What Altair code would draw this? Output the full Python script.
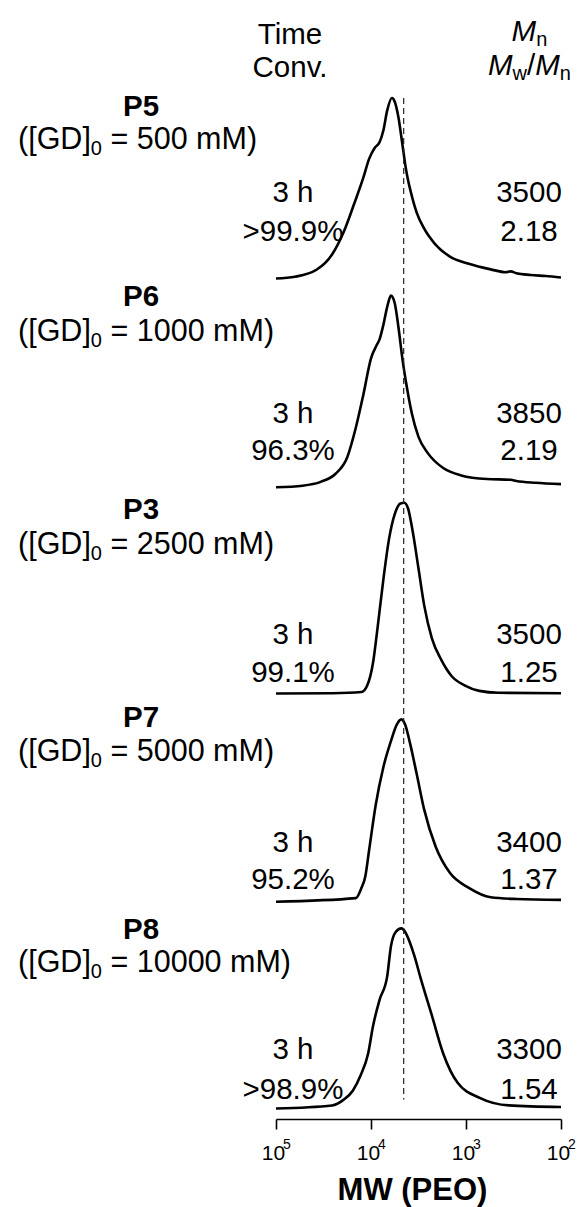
import altair as alt
import pandas as pd

FONT = "Liberation Sans"

# ---------------- values ----------------
samples = ["P5", "P6", "P3", "P7", "P8"]
gd0_mM = [500, 1000, 2500, 5000, 10000]
times = ["3 h", "3 h", "3 h", "3 h", "3 h"]
conversions = [">99.9%", "96.3%", "99.1%", "95.2%", ">98.9%"]
mn_values = ["3500", "3850", "3500", "3400", "3300"]
dispersities = ["2.18", "2.19", "1.25", "1.37", "1.54"]

# SEC traces: log10(MW, PEO calibration) and normalised detector signal
p5_logmw = [5.00, 4.80, 4.57, 4.41, 4.29, 4.18, 4.08, 4.02, 3.96, 3.91, 3.87, 3.83, 3.78, 3.75,
            3.71, 3.67, 3.63, 3.57, 3.52, 3.44, 3.33, 3.17, 2.97, 2.74, 2.58, 2.53, 2.47, 2.32,
            2.16, 2.00]
p5_signal = [0.0, 0.01, 0.05, 0.133, 0.255, 0.41, 0.56, 0.663, 0.725, 0.755, 0.82, 0.93, 1.0,
             0.98, 0.89, 0.745, 0.60, 0.457, 0.367, 0.276, 0.194, 0.122, 0.082, 0.051, 0.035,
             0.04, 0.03, 0.02, 0.014, 0.006]

p6_logmw = [5.00, 4.72, 4.53, 4.37, 4.25, 4.16, 4.08, 4.00, 3.94, 3.91, 3.87, 3.83, 3.79, 3.75,
            3.71, 3.67, 3.63, 3.57, 3.50, 3.40, 3.24, 3.05, 2.78, 2.53, 2.47, 2.27, 2.00]
p6_signal = [-0.008, 0.0, 0.02, 0.064, 0.15, 0.305, 0.48, 0.67, 0.74, 0.77, 0.846, 0.94, 1.0,
             0.96, 0.83, 0.67, 0.54, 0.38, 0.257, 0.17, 0.093, 0.054, 0.035, 0.031, 0.025,
             0.015, 0.008]

p3_logmw = [5.00, 4.41, 4.10, 4.04, 3.98, 3.93, 3.87, 3.81, 3.75, 3.69, 3.65, 3.61, 3.56, 3.50,
            3.44, 3.36, 3.26, 3.15, 3.01, 2.86, 2.66, 2.00]
p3_signal = [-0.004, -0.002, 0.004, 0.038, 0.154, 0.346, 0.596, 0.81, 0.94, 0.996, 1.0, 0.97,
             0.846, 0.654, 0.46, 0.288, 0.173, 0.087, 0.038, 0.01, 0.0, -0.002]

p7_logmw = [5.00, 4.16, 4.10, 4.06, 4.02, 3.95, 3.87, 3.79, 3.73, 3.68, 3.64, 3.59, 3.52, 3.44,
            3.32, 3.17, 2.97, 2.74, 2.47, 2.00]
p7_signal = [-0.01, 0.01, 0.067, 0.13, 0.275, 0.527, 0.735, 0.88, 0.97, 1.0, 0.97, 0.87, 0.70,
             0.50, 0.296, 0.15, 0.067, 0.015, 0.005, 0.0]

p8_logmw = [5.00, 4.41, 4.29, 4.19, 4.11, 4.03, 3.98, 3.91, 3.83, 3.79, 3.74, 3.68, 3.64, 3.59,
            3.54, 3.48, 3.36, 3.24, 3.09, 2.85, 2.55, 2.00]
p8_signal = [-0.008, 0.009, 0.04, 0.093, 0.177, 0.30, 0.45, 0.60, 0.73, 0.90, 0.98, 1.0, 0.98,
             0.92, 0.84, 0.726, 0.514, 0.30, 0.137, 0.05, 0.009, 0.0]

peak_heights = [0.95, 1.0, 1.0, 0.95, 0.94]     # relative peak height of each trace
ref_logmw = 3.656                               # dashed reference line
axis_ticks = [5, 4, 3, 2]
tick_exponents = ["5", "4", "3", "2"]

# ---------------- layout (stack offsets, label placement) ----------------
step = 1.09
offsets = [(len(samples) - 1 - i) * step for i in range(len(samples))]
label_rel = [0.903, 0.993, 0.962, 0.957, 0.932]
gd_rel = [0.729, 0.809, 0.778, 0.778, 0.758]
time_rel = [0.451, 0.377, 0.304, 0.299, 0.300]
conv_rel = [0.245, 0.183, 0.104, 0.105, 0.089]

traces = [(p5_logmw, p5_signal), (p6_logmw, p6_signal), (p3_logmw, p3_signal),
          (p7_logmw, p7_signal), (p8_logmw, p8_signal)]
rows = []
for i, (lx, sy) in enumerate(traces):
    for a, b in zip(lx, sy):
        rows.append({"sample": samples[i], "logmw": a, "y": offsets[i] + b * peak_heights[i]})
trace_df = pd.DataFrame(rows)

text_df = pd.DataFrame({
    "sample": samples,
    "gd_rest": [f"= {g} mM)" for g in gd0_mM],
    "time": times,
    "conv": conversions,
    "mn": mn_values,
    "disp": dispersities,
    "y_label": [o + r for o, r in zip(offsets, label_rel)],
    "y_gd": [o + r for o, r in zip(offsets, gd_rel)],
    "y_time": [o + r for o, r in zip(offsets, time_rel)],
    "y_conv": [o + r for o, r in zip(offsets, conv_rel)],
})

ref_df = pd.DataFrame({"logmw": [ref_logmw],
                       "y": [offsets[0] + peak_heights[0]],
                       "y2": [0.04]})
exp_df = pd.DataFrame({"logmw": axis_ticks, "e": tick_exponents})

W, H = 285, 1119
xscale = alt.Scale(domain=[5, 2], nice=False, zero=False)
yscale = alt.Scale(domain=[-0.063, 5.826], nice=False, zero=False)
F = 29.5
FG = 30.5
FS = 20

lines = alt.Chart(trace_df).mark_line(color="black", strokeWidth=2.6, interpolate="monotone").encode(
    x=alt.X("logmw:Q", scale=xscale,
            axis=alt.Axis(values=axis_ticks, labelExpr="'10'", labelFont=FONT, labelFontSize=21,
                          labelColor="black", labelOffset=-3, labelPadding=13, labelFlush=False,
                          labelOverlap=False, tickSize=10, tickWidth=1.6, tickColor="black",
                          domainWidth=1.6, domainColor="black", grid=False,
                          title="MW (PEO)", titleFont=FONT, titleFontSize=31,
                          titleFontWeight="bold", titleColor="black", titleX=136, titleY=80,
                          titleBaseline="alphabetic", titleAlign="center")),
    y=alt.Y("y:Q", scale=yscale, axis=None),
    detail="sample:N",
    order=alt.Order("logmw:Q", sort="descending"),
)

ref = alt.Chart(ref_df).mark_rule(color="#222222", strokeWidth=1.2, strokeDash=[6, 4]).encode(
    x=alt.X("logmw:Q", scale=xscale),
    y=alt.Y("y:Q", scale=yscale),
    y2="y2:Q",
)

exps = alt.Chart(exp_df).mark_text(font=FONT, fontSize=14, color="black", align="center",
                                   baseline="middle", dx=11).encode(
    x=alt.X("logmw:Q", scale=xscale), y=alt.value(1145), text="e:N")


def ptext(field, yfield, x, size=F, weight="normal", style="normal", align="center", dx=0, dy=0):
    return alt.Chart(text_df).mark_text(font=FONT, fontSize=size, fontWeight=weight,
                                        fontStyle=style, align=align, baseline="middle",
                                        dx=dx, dy=dy, color="black").encode(
        x=alt.value(x), y=alt.Y(f"{yfield}:Q", scale=yscale), text=f"{field}:N")


def label(text, x, y, size=F, weight="normal", style="normal", align="center", dx=0, dy=0):
    return alt.Chart(pd.DataFrame({"t": [text]})).mark_text(
        font=FONT, fontSize=size, fontWeight=weight, fontStyle=style, align=align,
        baseline="middle", dx=dx, dy=dy, color="black").encode(
        text="t:N", x=alt.value(x), y=alt.value(y))


left_x = -258
w_open = 2389 * FG / 1000.0
w_sub = 556 * FS / 1000.0
w_space = 278 * FG / 1000.0
gd_open = alt.Chart(text_df).mark_text(font=FONT, fontSize=FG, align="left", baseline="middle",
                                       color="black", text="([GD]").encode(
    x=alt.value(left_x), y=alt.Y("y_gd:Q", scale=yscale))
gd_sub = alt.Chart(text_df).mark_text(font=FONT, fontSize=FS, align="left", baseline="middle",
                                      color="black", text="0", dx=w_open, dy=9).encode(
    x=alt.value(left_x), y=alt.Y("y_gd:Q", scale=yscale))

layers = [
    lines, ref, exps,
    ptext("sample", "y_label", -135, weight="bold"),
    gd_open, gd_sub,
    ptext("gd_rest", "y_gd", left_x, size=FG, align="left", dx=w_open + w_sub + w_space),
    ptext("time", "y_time", 17),
    ptext("conv", "y_conv", 17),
    ptext("mn", "y_time", 253),
    ptext("disp", "y_conv", 253),
    # column headers
    label("Time", 14, 35),
    label("Conv.", 14, 68),
    label("M", 253, 32, style="italic", align="left", dx=-17.4),
    label("n", 253, 32, size=FS, align="left", dx=7.2, dy=8),
    label("M", 253, 66, style="italic", align="left", dx=-41),
    label("w", 253, 66, size=FS, align="left", dx=-16.4, dy=8),
    label("/", 253, 66, align="left", dx=-2.0),
    label("M", 253, 66, style="italic", align="left", dx=6.2),
    label("n", 253, 66, size=FS, align="left", dx=30.8, dy=8),
]

chart = alt.layer(*layers).properties(
    width=W, height=H,
    padding={"left": 276, "top": 0, "right": 17, "bottom": 88},
    autosize=alt.AutoSizeParams(type="none"),
).configure_view(stroke=None)

chart.save("out.html", embed_options={"renderer": "svg", "actions": False})
